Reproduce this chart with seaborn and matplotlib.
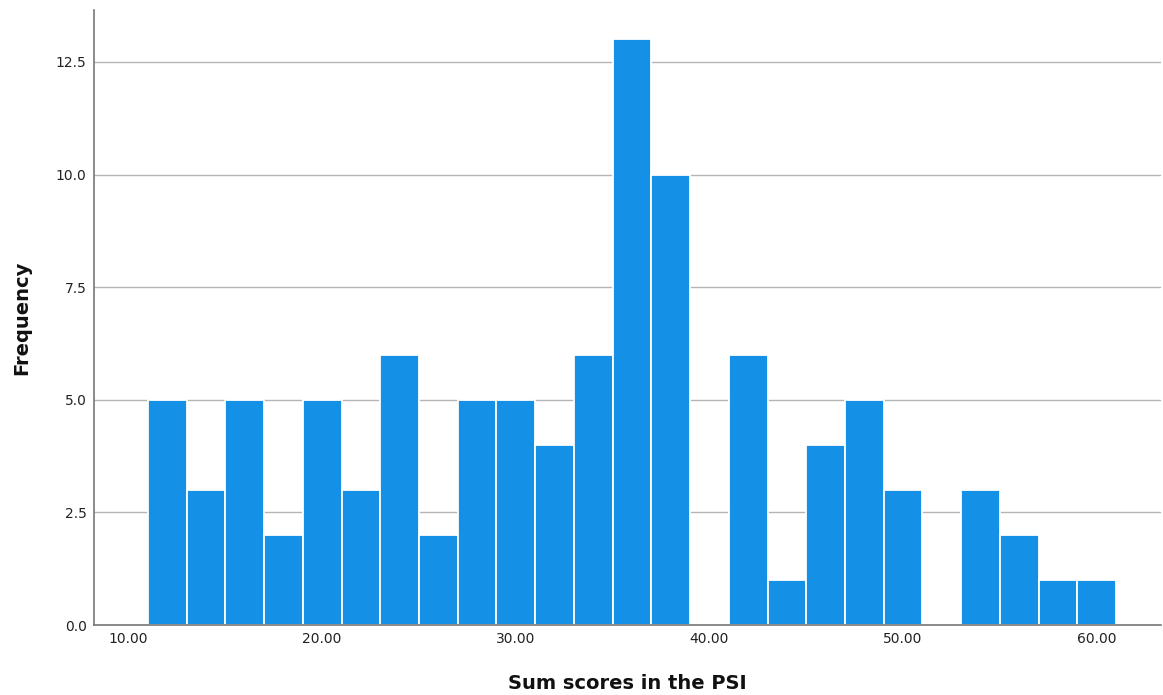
import numpy as np
import pandas as pd
import matplotlib
matplotlib.use("Agg")
import matplotlib.pyplot as plt
import seaborn as sns

# Histogram bins (width 2) and frequencies
bin_edges = [11, 13, 15, 17, 19, 21, 23, 25, 27, 29, 31, 33, 35, 37, 39,
             41, 43, 45, 47, 49, 51, 53, 55, 57, 59, 61]
counts = [5, 3, 5, 2, 5, 3, 6, 2, 5, 5, 4, 6, 13, 10, 0,
          6, 1, 4, 5, 3, 0, 3, 2, 1, 1]
x_ticks = [10, 20, 30, 40, 50, 60]
x_tick_labels = ["10.00", "20.00", "30.00", "40.00", "50.00", "60.00"]
y_ticks = [0.0, 2.5, 5.0, 7.5, 10.0, 12.5]

centers = [(a + b) / 2 for a, b in zip(bin_edges[:-1], bin_edges[1:])]
df = pd.DataFrame({"score": centers, "freq": counts})

sns.set_style("white")
plt.rcParams['font.family'] = ['DejaVu Sans']

fig = plt.figure(figsize=(11.63, 6.95), dpi=100)
ax = fig.add_axes([0.0805, 0.1007, 0.9175, 0.8853])

ax.set_axisbelow(True)
for yt in y_ticks:
    ax.axhline(yt, color="#b5b5b5", lw=1.0, zorder=0)

sns.histplot(data=df, x="score", weights="freq", bins=bin_edges, ax=ax,
             color="#1490E6", alpha=1.0, edgecolor="white", linewidth=1.3,
             zorder=2)

ax.set_xlim(8.2, 63.3)
ax.set_ylim(0, 13.66)
ax.set_xticks(x_ticks)
ax.set_xticklabels(x_tick_labels)
ax.set_yticks(y_ticks)
ax.set_yticklabels([f"{v:.1f}" for v in y_ticks])
ax.tick_params(axis="both", length=0, labelsize=10, colors="#222222", pad=5)

for s in ["top", "right"]:
    ax.spines[s].set_visible(False)
for s in ["left", "bottom"]:
    ax.spines[s].set_color("#777777")
    ax.spines[s].set_linewidth(1.2)

ax.set_xlabel("Sum scores in the PSI", fontsize=14, fontweight="bold",
              color="#111111", labelpad=20)
ax.set_ylabel("Frequency", fontsize=14, fontweight="bold",
              color="#111111", labelpad=18)

fig.savefig("out.png", dpi=100)
